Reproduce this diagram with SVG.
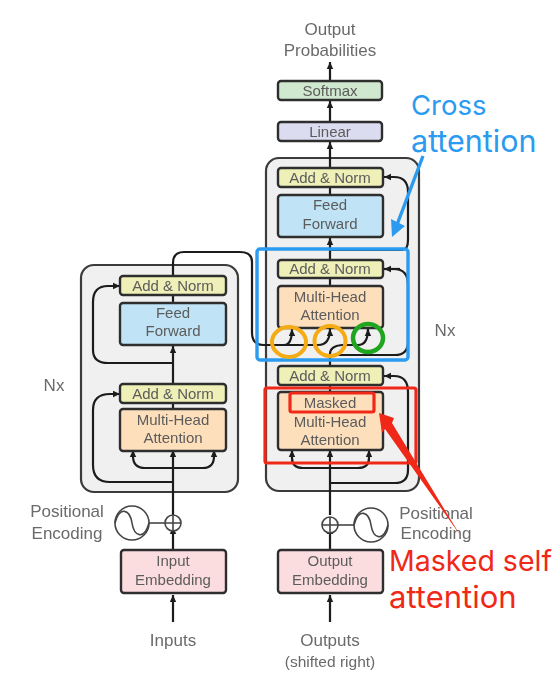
<svg xmlns="http://www.w3.org/2000/svg" width="560" height="680" viewBox="0 0 560 680">
<defs>
<marker id="a" markerUnits="userSpaceOnUse" markerWidth="9" markerHeight="9" refX="7" refY="4" orient="auto"><path d="M0 .8L7 4L0 7.2Z" fill="#1c1c1c"/></marker>
<filter id="soft" x="0" y="0" width="100%" height="100%" filterUnits="userSpaceOnUse"><feGaussianBlur stdDeviation="0.55"/></filter>
</defs>
<style>
text{font-family:"Liberation Sans",Arial,sans-serif;text-anchor:middle;fill:#5c5c5c;font-size:15px}
.side{font-size:17px;fill:#6a6a6a}
.box{stroke:#2e2e2e;stroke-width:2.4}
.stack{fill:#f0f0f0;stroke:#3a3a3a;stroke-width:2.2}
.l{fill:none;stroke:#1c1c1c;stroke-width:2.2}
.t{fill:none;stroke:#444;stroke-width:1.6}
.arr{marker-end:url(#a)}
.g{fill:#eef0b8}.b{fill:#c0e4f6}.o{fill:#fddfbc}.p{fill:#fbdde0}.dg{fill:#cfe8cf}.v{fill:#dcdcf0}
.blue{fill:none;stroke:#2a9bf0;stroke-width:3.4}
.red{fill:none;stroke:#f02818;stroke-width:3.2}
.ann{font-family:"Inter","Noto Sans",sans-serif;text-anchor:start;font-size:28.5px}
</style>
<g id="diagram" filter="url(#soft)">
<g id="stack-encoder"><rect class="stack" x="81" y="265" width="157" height="227" rx="13"/></g>
<g id="stack-decoder"><rect class="stack" x="266" y="158" width="153" height="333" rx="13"/></g>

<g id="connectors">
<path class="l arr" d="M173 622V595"/>
<path class="l arr" d="M173 550V527"/>
<path class="l" d="M173 515V492"/>
<path class="l arr" d="M173 492V450"/>
<path class="l arr" d="M173 482H110Q93 482 93 465V410Q93 394 110 394H120"/>
<path class="l arr" d="M173 468H145Q133 468 133 456V450"/>
<path class="l arr" d="M173 468H203Q214 468 214 456V450"/>
<path class="l" d="M173 408V404"/>
<path class="l arr" d="M173 384V346"/>
<path class="l arr" d="M173 363H108Q93 363 93 350V302Q93 286 108 286H120"/>
<path class="l" d="M173 305V296"/>
<path class="l" d="M173 276V263Q173 252 184 252H240Q252 252 252 262V333Q252 345 264 345"/>
<path class="l arr" d="M264 345H284Q292 345 292 329"/>
<path class="l arr" d="M280 345H318Q330 345 330 329"/>
<path class="l arr" d="M330 622V595"/>
<path class="l arr" d="M330 550V527"/>
<path class="l" d="M330 515V492"/>
<path class="l arr" d="M330 492V450"/>
<path class="l arr" d="M330 483H395Q408 483 408 470V392Q408 376 394 376H384"/>
<path class="l arr" d="M330 468H303Q292 468 292 458V450"/>
<path class="l arr" d="M330 468H358Q369 468 369 458V450"/>
<path class="l" d="M330 408V386"/>
<path class="l" d="M330 366V354Q330 346 342 345H358Q368 345 368 329"/>
<path class="l arr" d="M368 334V329"/>
<path class="l" d="M330 355H395Q408 355 408 342V285Q408 269 394 269H384"/>
<path class="l arr" d="M400 269H384"/>
<path class="l" d="M330 288V279"/>
<path class="l arr" d="M330 259V238"/>
<path class="l arr" d="M330 250H402Q408 250 408 240V192Q408 177 394 177H384"/>
<path class="l" d="M330 195V188"/>
<path class="l arr" d="M330 168V142"/>
<path class="l arr" d="M330 122V101"/>
<path class="l arr" d="M330 81V62"/>
<path class="t" d="M149 523H165"/>
<path class="t" d="M338 525H354"/>
</g>

<g id="n-add-norm-e2"><rect class="box g" x="120" y="276" width="106" height="19" rx="3"/><text x="173" y="291">Add &amp; Norm</text></g>
<g id="n-feed-forward-e"><rect class="box b" x="120" y="303" width="106" height="42" rx="3"/><text x="173" y="318">Feed</text><text x="173" y="336">Forward</text></g>
<g id="n-add-norm-e1"><rect class="box g" x="120" y="384" width="106" height="19" rx="3"/><text x="173" y="399">Add &amp; Norm</text></g>
<g id="n-mha-e"><rect class="box o" x="120" y="409" width="106" height="42" rx="3"/><text x="173" y="425">Multi-Head</text><text x="173" y="443">Attention</text></g>
<g id="n-input-emb"><rect class="box p" x="121" y="550" width="105" height="43" rx="3"/><text x="173" y="566">Input</text><text x="173" y="585">Embedding</text></g>
<g id="n-inputs"><text class="side" x="173" y="646">Inputs</text></g>
<g id="n-pos-e">
<text class="side" x="67" y="517">Positional</text><text class="side" x="67" y="539">Encoding</text>
<circle cx="132" cy="523" r="17" class="t" style="fill:#fff"/>
<path class="t" d="M115 523C120 505 130 510 132 523S144 541 149 523"/>
<circle cx="173" cy="523" r="8" class="t" style="fill:#fff"/><path class="t" d="M165 523H181M173 515V531"/>
</g>

<g id="n-add-norm-d3"><rect class="box g" x="278" y="168" width="105" height="19" rx="3"/><text x="330" y="183">Add &amp; Norm</text></g>
<g id="n-feed-forward-d"><rect class="box b" x="278" y="195" width="105" height="42" rx="3"/><text x="330" y="210">Feed</text><text x="330" y="229">Forward</text></g>
<g id="n-add-norm-d2"><rect class="box g" x="278" y="260" width="105" height="18" rx="3"/><text x="330" y="274">Add &amp; Norm</text></g>
<g id="n-mha-d"><rect class="box o" x="278" y="286" width="105" height="42" rx="3"/><text x="330" y="302">Multi-Head</text><text x="330" y="320">Attention</text></g>
<g id="n-add-norm-d1"><rect class="box g" x="278" y="366" width="105" height="19" rx="3"/><text x="330" y="381">Add &amp; Norm</text></g>
<g id="n-masked"><rect class="box o" x="278" y="392" width="105" height="58" rx="3"/><text x="330" y="408">Masked</text><text x="330" y="427">Multi-Head</text><text x="330" y="445">Attention</text></g>
<g id="n-output-emb"><rect class="box p" x="278" y="550" width="105" height="43" rx="3"/><text x="330" y="566">Output</text><text x="330" y="585">Embedding</text></g>
<g id="n-outputs"><text class="side" x="330" y="646">Outputs</text><text x="330" y="667" style="font-size:15.5px;fill:#6a6a6a">(shifted right)</text></g>
<g id="n-pos-d">
<text class="side" x="436" y="519">Positional</text><text class="side" x="436" y="539">Encoding</text>
<circle cx="371" cy="525" r="17" class="t" style="fill:#fff"/>
<path class="t" d="M354 525C359 507 369 512 371 525S383 543 388 525"/>
<circle cx="330" cy="525" r="8" class="t" style="fill:#fff"/><path class="t" d="M322 525H338M330 517V533"/>
</g>
<g id="n-linear"><rect class="box v" x="278" y="122" width="104" height="19" rx="3"/><text x="330" y="137">Linear</text></g>
<g id="n-softmax"><rect class="box dg" x="278" y="81" width="104" height="19" rx="3"/><text x="330" y="96">Softmax</text></g>
<g id="n-output-prob"><text class="side" x="330" y="35">Output</text><text class="side" x="330" y="56">Probabilities</text></g>
<g id="n-nx-e"><text class="side" x="54" y="391">Nx</text></g>
<g id="n-nx-d"><text class="side" x="445" y="336">Nx</text></g>
</g>

<g id="annotations">
<rect class="blue" x="257" y="249" width="151" height="111" rx="3"/>
<ellipse cx="289" cy="342" rx="17" ry="15" fill="none" stroke="#f5ab14" stroke-width="4"/>
<ellipse cx="330" cy="341" rx="15.5" ry="15" fill="none" stroke="#f5ab14" stroke-width="4"/>
<ellipse cx="368" cy="338" rx="15" ry="14" fill="none" stroke="#1fa51f" stroke-width="4.5"/>
<rect class="red" x="265" y="388" width="151" height="75" rx="2"/>
<rect class="red" x="290" y="393" width="84" height="19" rx="2"/>
<path d="M379 413L394 418L392 423L460 535L385 429L382 433Z" fill="#f02818"/>
<path d="M423 156L395 230" stroke="#2a9bf0" stroke-width="3.4"/>
<path d="M392 237L391 219L405 226Z" fill="#2a9bf0"/>
<text class="ann" x="411" y="115" style="fill:#2a9bf0;font-size:27.5px">Cross</text>
<text class="ann" x="411" y="152" style="fill:#2a9bf0;font-size:30.5px">attention</text>
<text class="ann" x="389" y="571" style="fill:#f02818">Masked self</text>
<text class="ann" x="389" y="608" style="fill:#f02818;font-size:31px">attention</text>
</g>
</svg>
